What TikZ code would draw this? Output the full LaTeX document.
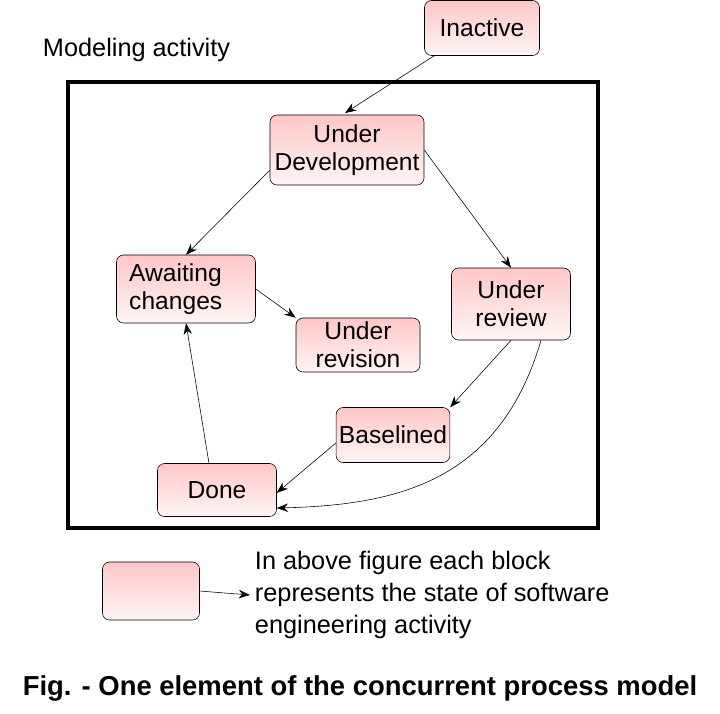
\documentclass[tikz,border=0pt]{standalone}
\usepackage{fontspec}
\setmainfont{Liberation Sans}
\usetikzlibrary{positioning,arrows.meta}
\tikzset{
  state/.style={draw, rounded corners=5pt, top color=red!22, bottom color=red!4,
    align=center, inner sep=2pt, font=\fontsize{17.5}{20}\selectfont},
  flow/.style={-{Stealth[length=8pt,width=6pt]}, thin}
}
\begin{document}
\begin{tikzpicture}[x=0.025cm,y=-0.025cm]
\useasboundingbox (0,0) rectangle (720,713);
\draw[line width=2.5pt] (68,82) rectangle (598,528);
\node[anchor=west, font=\fontsize{18}{21}\selectfont] (title) at (38,50) {Modeling activity};

\node[state, minimum width=115*0.025cm, minimum height=55*0.025cm] (inactive) at (482,28) {Inactive};
\node[state, minimum width=154*0.025cm, minimum height=70*0.025cm] (dev) at (347,150) {Under\\Development};
\node[state, minimum width=139*0.025cm, minimum height=68*0.025cm, align=left] (await) at (186,289) {Awaiting\\changes\ \ \ \ };
\node[state, minimum width=124*0.025cm, minimum height=54*0.025cm] (revision) at (358,345) {Under\\revision};
\node[state, minimum width=119*0.025cm, minimum height=72*0.025cm] (review) at (511,304) {Under\\review};
\node[state, minimum width=107*0.025cm, minimum height=55*0.025cm] (base) at (393,435) {Baselined};
\node[state, minimum width=119*0.025cm, minimum height=53*0.025cm] (done) at (217,490) {Done};

% transitions
\draw[flow] (inactive.south west) ++(10,0) coordinate (i1) -- (345,113) coordinate (i2);
\draw[flow] (dev.south west) ++(0,-15) -- (await.north);
\draw[flow] (dev.east) -- (review.north);
\draw[flow] (await.east) ++(0,0) -- (revision.north west);
\draw[flow] (review.south) -- (base.north east);
\draw[flow] (review.south) ++(30,0) .. controls (500,480) and (400,505) .. ([yshift=-18*0.025cm]done.east);
\draw[flow] (base.west) ++(0,8) -- ([yshift=-2]done.east);
\draw[flow] (done.north) ++(-8,0) -- (await.south);

% legend
\node[state, minimum width=97*0.025cm, minimum height=58*0.025cm] (legend) at (151,591) {};
\node[anchor=west, align=left, font=\fontsize{18}{22.5}\selectfont] (note) at (250,595)
  {In above figure each block\\represents the state of software\\engineering activity};
\draw[flow] (legend.east) -- (note.west);
\node[font=\bfseries\fontsize{19.5}{22}\selectfont] (caption) at (360,688)
  {Fig. - One element of the concurrent process model};
\end{tikzpicture}
\end{document}
